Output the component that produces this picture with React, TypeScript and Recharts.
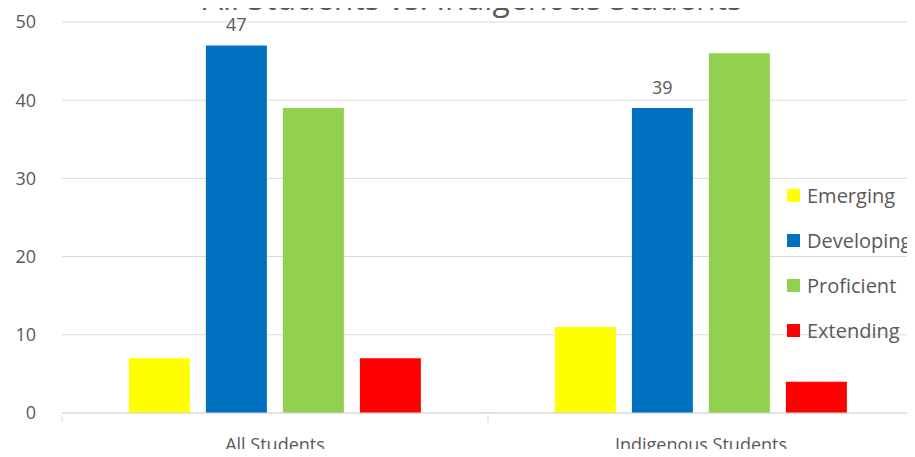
import { BarChart, Bar, XAxis, YAxis, CartesianGrid, LabelList } from "recharts";

const groups = ["All Students", "Indigenous Students"];
const emerging = [7, 11];
const developing = [47, 39];
const proficient = [39, 46];
const extending = [7, 4];
const yTicks = [0, 10, 20, 30, 40, 50];

const series = [
	{ key: "Emerging", color: "#FFFF00" },
	{ key: "Developing", color: "#0070C0" },
	{ key: "Proficient", color: "#92D050" },
	{ key: "Extending", color: "#FF0000" },
];

const data = groups.map((name, i) => ({
	name,
	Emerging: emerging[i],
	Developing: developing[i],
	Proficient: proficient[i],
	Extending: extending[i],
}));

const FONT = "'Open Sans', Lato, sans-serif";
const TEXT = "#595959";
const GRID = "#d9d9d9";

function CategoryTick(props: any) {
	const { x, y, payload, index } = props;
	const half = payload.offset || 0;
	return (
		<g>
			<line x1={x - half} x2={x - half} y1={y} y2={y + 7} stroke={GRID} />
			{index === groups.length - 1 && (
				<line x1={x + half} x2={x + half} y1={y} y2={y + 7} stroke={GRID} />
			)}
			<text x={x} y={y + 36} textAnchor="middle" fill={TEXT} fontSize={18} fontFamily={FONT}>
				{payload.value}
			</text>
		</g>
	);
}

export default function App() {
	return (
		<div style={{ position: "relative", width: 915, height: 457, margin: -8, overflow: "hidden", background: "#fff" }}>
			<div style={{ position: "absolute", left: 4, top: 0, width: 1, height: 457, background: GRID }} />
			<BarChart
				width={915}
				height={457}
				data={data}
				margin={{ top: 22, right: 1, bottom: 0, left: 0 }}
				barCategoryGap="15.7%"
				barGap={16}
			>
				<CartesianGrid vertical={false} stroke={GRID} />
				<XAxis
					dataKey="name"
					height={44}
					tickLine={false}
					tickSize={0}
					axisLine={{ stroke: GRID }}
					tick={<CategoryTick />}
					interval={0}
				/>
				<YAxis
					width={62}
					domain={[0, 50]}
					ticks={yTicks}
					axisLine={false}
					tickLine={false}
					tickSize={0}
					tickMargin={26}
					tick={{ fill: TEXT, fontSize: 18, fontFamily: FONT }}
				/>
				{series.map((s) => (
					<Bar key={s.key} dataKey={s.key} fill={s.color} isAnimationActive={false}>
						{s.key === "Developing" && (
							<LabelList dataKey={s.key} position="top" offset={14} fill={TEXT} fontSize={18} fontFamily={FONT} />
						)}
					</Bar>
				))}
			</BarChart>
			<div
				style={{
					position: "absolute",
					left: 0,
					width: 945,
					top: -23,
					textAlign: "center",
					fontFamily: FONT,
					fontSize: 32,
					lineHeight: "41px",
					color: TEXT,
					whiteSpace: "nowrap",
				}}
			>
				All Students vs. Indigenous Students
			</div>
			<div style={{ position: "absolute", left: 787, top: 173, fontFamily: FONT, fontSize: 20, color: TEXT }}>
				{series.map((s) => (
					<div key={s.key} style={{ display: "flex", alignItems: "center", height: 45 }}>
						<span style={{ width: 13, height: 13, background: s.color, marginRight: 7, display: "inline-block" }} />
						{s.key}
					</div>
				))}
			</div>
		</div>
	);
}
